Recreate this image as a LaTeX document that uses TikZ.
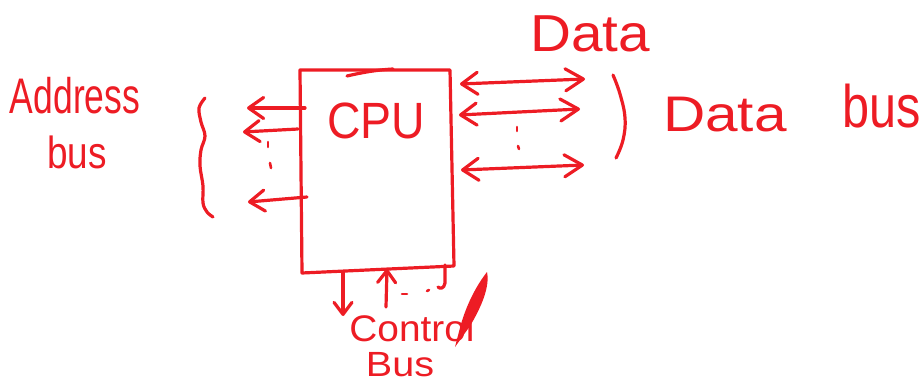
\documentclass[tikz,border=0pt]{standalone}
\usepackage{fontspec}
\setmainfont{Liberation Sans}
\usetikzlibrary{arrows.meta}
\definecolor{pen}{RGB}{237,28,36}

% hand-written label: #1 font size, #2 horizontal squeeze, #3 text
\newcommand{\penlabel}[3]{\fontsize{#1}{#1}\selectfont\scalebox{#2}[1]{#3}}

\begin{document}
\begin{tikzpicture}[x=1pt,y=-1pt,
  ink/.style={draw=pen,line width=3.2pt,line cap=round,line join=round},
  thin ink/.style={draw=pen,line width=2.6pt,line cap=round,line join=round},
  label/.style={text=pen,inner sep=0pt,anchor=center},
  addrarrow/.style={ink,-{Straight Barb[length=15pt,width=21pt,line cap=round,line join=round]}},
  dataarrow/.style={ink,{Straight Barb[length=16pt,width=22pt,line cap=round,line join=round]}-{Straight Barb[length=18pt,width=22pt,line cap=round,line join=round]}},
  ctrlarrow/.style={ink,-{Straight Barb[length=12pt,width=18pt,line cap=round,line join=round]}},
  dot/.style={thin ink}]
  \useasboundingbox (0,0) rectangle (924,385);

  % CPU box corners
  \coordinate (tl) at (300,70);
  \coordinate (tr) at (450,70);
  \coordinate (br) at (454,266);
  \coordinate (bl) at (302,273);
  \draw[ink] (tl) -- (tr) -- (br) -- (bl) -- cycle;
  % second stroke along the top edge
  \coordinate (ts1) at (347,76);
  \coordinate (ts2) at (393,69);
  \draw[ink] (ts1) .. controls (360,73) and (375,70) .. (ts2);

  \node[label] (cpu) at (376,121) {\penlabel{51pt}{0.91}{CPU}};

  % address bus: outgoing lines on the left
  \coordinate (a1s) at (305,108); \coordinate (a1e) at (247,108);
  \coordinate (a2s) at (298,129); \coordinate (a2e) at (243,132);
  \coordinate (a3s) at (307,197); \coordinate (a3e) at (248,202);
  \draw[addrarrow] (a1s) -- (a1e);
  \draw[addrarrow] (a2s) -- (a2e);
  \draw[addrarrow] (a3s) -- (a3e);
  \coordinate (ad1a) at (268,142); \coordinate (ad1b) at (268,147);
  \coordinate (ad2a) at (270,163); \coordinate (ad2b) at (271,168);
  \draw[dot] (ad1a) -- (ad1b);
  \draw[dot] (ad2a) -- (ad2b);

  % brace grouping the address lines
  \draw[ink] plot[smooth,tension=0.6] coordinates {(205,98) (199,108) (201,122) (205,136) (201,150) (200,166) (203,186) (203,203) (207,212) (213,217)};

  \node[label] (addr) at (75,96) {\penlabel{50pt}{0.71}{Address}};
  \node[label] (addrbus) at (77,152) {\penlabel{45pt}{0.82}{bus}};

  % data bus: two-way lines on the right
  \coordinate (d1s) at (460,84);  \coordinate (d1e) at (585,79);
  \coordinate (d2s) at (459,115); \coordinate (d2e) at (580,109);
  \coordinate (d3s) at (461,170); \coordinate (d3e) at (584,165);
  \draw[dataarrow] (d1s) -- (d1e);
  \draw[dataarrow] (d2s) -- (d2e);
  \draw[dataarrow] (d3s) -- (d3e);
  \coordinate (dd1a) at (517,127); \coordinate (dd1b) at (517,131);
  \coordinate (dd2a) at (518,146); \coordinate (dd2b) at (519,149);
  \draw[dot] (dd1a) -- (dd1b);
  \draw[dot] (dd2a) -- (dd2b);

  % closing bracket of the data lines
  \draw[ink] plot[smooth,tension=0.7] coordinates {(613,75) (620,94) (625,118) (623,140) (616,158)};

  \node[label] (datatop) at (590,34) {\penlabel{52pt}{1.09}{Data}};
  \node[label] (databus1) at (725,115) {\penlabel{50pt}{1.17}{Data}};
  \node[label] (databus2) at (882,106) {\penlabel{60pt}{0.81}{bus}};

  % control bus below the box
  \coordinate (c1s) at (343,272); \coordinate (c1e) at (343,316);
  \coordinate (c2s) at (386,307); \coordinate (c2e) at (387,269);
  \draw[ctrlarrow] (c1s) -- (c1e);
  \draw[ctrlarrow] (c2s) -- (c2e);
  \coordinate (c3s) at (445,265);
  \coordinate (c3e) at (438,287);
  \draw[ink] (c3s) -- (445,283) .. controls (444,289) and (440,289) .. (c3e);
  \coordinate (cd1a) at (402,294); \coordinate (cd1b) at (407,294);
  \coordinate (cd2a) at (427,291); \coordinate (cd2b) at (429,290);
  \draw[dot] (cd1a) -- (cd1b);
  \draw[dot] (cd2a) -- (cd2b);

  \node[label] (ctrl) at (412,328) {\penlabel{37pt}{1.05}{Control}};
  \node[label] (ctrlbus) at (400,365) {\penlabel{35pt}{1.13}{Bus}};

  % heavy over-stroke on the end of the word
  \fill[pen] (487,272) .. controls (490,286) and (482,306) .. (470,326)
             -- (455,347) -- (461,324) .. controls (467,304) and (476,286) .. cycle;
\end{tikzpicture}
\end{document}
